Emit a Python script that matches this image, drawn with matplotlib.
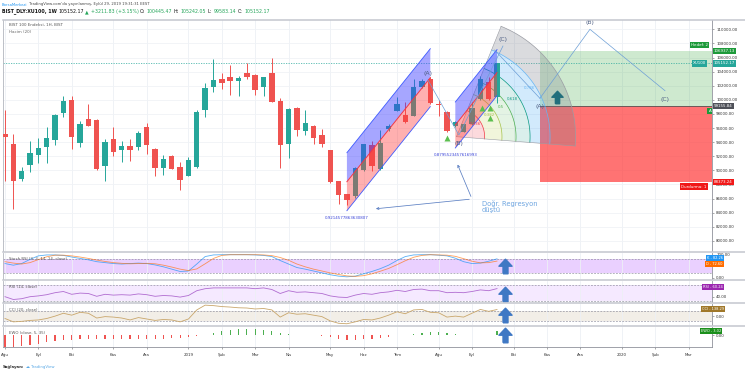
import matplotlib
matplotlib.use("Agg")
import matplotlib.pyplot as plt
import matplotlib.dates as mdates
from matplotlib.path import Path
from matplotlib.patches import Polygon, Rectangle
from matplotlib.lines import Line2D
import numpy as np
import pandas as pd

plt.rcParams['font.family'] = ['DejaVu Sans']

# ---------------- data ----------------
first_week = "2018-08-06"
opens = [95100, 93670, 88810, 90710, 92100, 93330, 94290, 98190, 99960, 93900,
         97240, 97100, 90570, 94380, 92810, 93380, 93330, 96190, 93040, 90330,
         92000, 90470, 89240, 90530, 98530, 101760, 102950, 103190, 102710, 103760,
         103520, 101760, 103760, 99860, 93670, 98900, 95570, 96290, 94950, 92860,
         88430, 86620, 86290, 90100, 93570, 90240, 95810, 98430, 97860, 97710,
         101760, 102950, 99390, 98330, 96290, 95470, 96530, 100100, 102480, 100445.47]
highs = [98570, 95100, 90430, 94140, 94530, 96140, 97950, 100570, 100570, 97000,
         99470, 97240, 94380, 96140, 94140, 94380, 95570, 96760, 93190, 92240,
         92240, 91140, 91860, 98570, 102330, 105810, 103810, 104950, 103430, 105190,
         103700, 103290, 105900, 100240, 98800, 99000, 98570, 96400, 95900, 92950,
         88500, 86700, 90430, 93700, 94140, 95710, 96620, 100430, 99620, 102950,
         102950, 103190, 99960, 98430, 97000, 96520, 99620, 103430, 103190, 105242.05]
lows = [88430, 84470, 88500, 89760, 91040, 91040, 93570, 97570, 93040, 93290,
        96290, 90100, 88430, 92000, 91190, 91380, 92810, 92330, 89140, 89380,
        90190, 87240, 89140, 90300, 97570, 101040, 101520, 100670, 100570, 102950,
        100710, 100570, 99620, 90330, 91760, 94860, 95000, 93760, 93290, 88190,
        85240, 85100, 86050, 89860, 89860, 90100, 95570, 98430, 96760, 97710,
        101670, 99470, 97710, 95470, 96150, 95380, 96430, 99960, 99960, 99583.14]
closes = [94760, 88530, 89960, 92480, 93100, 94570, 97860, 99860, 94710, 96530,
          96290, 90240, 94000, 92620, 93430, 92810, 95290, 93520, 90330, 91670,
          90240, 88670, 91430, 98290, 101620, 102810, 102330, 102620, 103050, 103190,
          101430, 103190, 99710, 93570, 98670, 95710, 96760, 94620, 93760, 88290,
          86520, 85810, 90330, 93670, 90570, 93810, 96290, 99470, 96860, 101760,
          102710, 99530, 99210, 95570, 96900, 96520, 98900, 102950, 100100, 105152.17]

stoch_k = [62, 55, 62, 80, 95, 99, 99, 97, 90, 84, 78, 70, 66, 62, 60, 62, 64, 62, 56, 48,
           38, 28, 30, 60, 92, 99, 100, 100, 100, 100, 99, 97, 92, 75, 60, 45, 38, 30, 22, 14,
           8, 5, 8, 18, 28, 40, 55, 75, 92, 99, 100, 100, 98, 95, 85, 70, 62, 64, 72, 82.26]
stoch_d = [70, 64, 60, 66, 79, 91, 98, 98, 95, 90, 84, 77, 71, 66, 63, 61, 62, 63, 61, 55,
           47, 38, 32, 39, 61, 84, 97, 100, 100, 100, 100, 99, 96, 88, 76, 60, 48, 38, 30, 22,
           15, 9, 7, 10, 18, 29, 41, 57, 74, 89, 97, 100, 99, 98, 93, 83, 72, 65, 66, 72.60]
rsi = [40, 33, 35, 40, 42, 45, 50, 53, 46, 49, 48, 41, 46, 44, 45, 44, 47, 45, 41, 43,
       42, 39, 43, 55, 60, 62, 62, 62, 62, 62, 60, 62, 58, 48, 55, 51, 52, 50, 48, 42,
       39, 38, 44, 48, 46, 50, 52, 56, 53, 58, 59, 55, 55, 50, 51, 50, 53, 57, 55, 60.24]
cci = [-50, -120, -110, -90, -80, -50, 0, 60, 20, 80, 60, -40, -10, -20, -40, -80, -30, -60, -90, -70,
       -80, -120, -60, 130, 230, 220, 200, 190, 175, 170, 150, 160, 130, -20, 70, 40, 50, 20, -10, -100,
       -150, -160, -120, -70, -80, -40, 20, 90, 50, 130, 140, 80, 70, -20, 0, -20, 60, 140, 100, 138.29]
ewo = [-9.7, -9.7, -9.2, -8.7, -7.5, -6.1, -4.7, -4.2, -3.9, -3.6, -3.6, -3.6, -3.6, -3.6, -3.6,
       -3.3, -3.3, -3.1, -3.1, -3.1, -2.8, -2.5, -1.9, -0.8, 0.3, 1.7, 3.1, 4.4, 5.0, 5.0,
       4.7, 4.2, 3.1, 1.7, 0.6, 0.3, -0.3, -0.3, -0.6, -1.9, -3.3, -4.2, -4.2, -3.6, -3.1,
       -2.2, -1.4, -0.4, 0.2, 0.8, 1.7, 2.2, 2.2, 1.7, 0.8, 0.3, 0.3, 0.2, 0.4, 3.02]

month_labels = ["Ağu", "Eyl", "Eki", "Kas", "Ara", "2019", "Şub", "Mar", "Nis", "May",
                "Haz", "Tem", "Ağu", "Eyl", "Eki", "Kas", "Ara", "2020", "Şub", "Mar"]
month_first = "2018-08-01"
price_ticks = list(range(80000, 110001, 2000))

last_close = 105152.17
entry_price = 99155.84
target_price = 106937.13
stop_price = 88373.24
position_start = "2019-10-29"

chan1 = dict(start="2019-05-20", end="2019-07-29", mid0=88384, mid1=103135, half=4113,
             r="0.9214577863630807")
chan2 = dict(start="2019-08-19", end="2019-09-23", mid0=96426, mid1=103858, half=3262,
             r="0.8795523457616993")
wedge_center = ("2019-08-20", 94767)
fib_levels = [0.236, 0.382, 0.5, 0.618, 0.786, 1.0]
abc1 = [("2019-07-27", 102809), ("2019-08-22", 95007), ("2019-09-28", 107631)]
abc2 = [("2019-10-29", 100213), ("2019-12-10", 110000), ("2020-02-11", 101291)]
abc_extra = [("2019-09-21", 107064), ("2019-10-29", 100213)]
buy_marks = [("2019-08-12", 94540), ("2019-09-10", 98795), ("2019-09-17", 98795), ("2019-09-17", 97376)]

# ---------------- figure ----------------
W, H = 745, 375
fig = plt.figure(figsize=(W / 100, H / 100), dpi=100, facecolor='white')
LEFT, RIGHT = 3, 712


def add_panel(top, bottom):
    return fig.add_axes([LEFT / W, 1 - bottom / H, (RIGHT - LEFT) / W, (bottom - top) / H])


ax = add_panel(20, 251)
ax_st = add_panel(253, 279)
ax_rsi = add_panel(281, 302)
ax_cci = add_panel(304, 325)
ax_ewo = add_panel(327, 347)
axes = [ax, ax_st, ax_rsi, ax_cci, ax_ewo]

dates = pd.date_range(first_week, periods=len(opens), freq="7D")
dn = mdates.date2num(dates)
px_day = 8.34 / 7.0
xmin = dn[0] - 2 / px_day
xmax = dn[-1] + (RIGHT - 497) / px_day

mstarts = pd.date_range(month_first, periods=len(month_labels), freq="MS")
tick_dates = [d + pd.Timedelta(days=(7 - d.weekday()) % 7) for d in mstarts]
tick_nums = mdates.date2num(tick_dates)

for a in axes:
    a.set_xlim(xmin, xmax)
    a.set_xticks(tick_nums)
    a.grid(True, axis='x', color='#edf0f5', lw=0.6)
    a.set_axisbelow(True)
    a.yaxis.tick_right()
    a.tick_params(axis='y', labelsize=2.8, length=1.5, width=0.4, pad=1.5, color='#666', labelcolor='#333')
    a.tick_params(axis='x', length=0, labelbottom=False)
    a.spines['top'].set_visible(False)
    a.spines['bottom'].set_visible(False)
    a.spines['left'].set_color('#b2b5be')
    a.spines['left'].set_linewidth(0.6)
    a.spines['right'].set_color('#8f929b')
    a.spines['right'].set_linewidth(0.6)

ax_ewo.tick_params(axis='x', labelbottom=True, length=1.5, width=0.4, labelsize=2.9, pad=2.5,
                   color='#666', labelcolor='#333')
ax_ewo.set_xticklabels(month_labels)
ax_ewo.spines['bottom'].set_visible(True)
ax_ewo.spines['bottom'].set_color('#8f929b')
ax_ewo.spines['bottom'].set_linewidth(0.6)

# ---------- main price panel ----------
pmin = 110000 - (251 - 29.3) / 7.05 * 1000
pmax = 110000 + (29.3 - 20) / 7.05 * 1000
ax.set_ylim(pmin, pmax)
ax.set_yticks(price_ticks)
ax.set_yticklabels([f"{v:.2f}" for v in price_ticks])
ax.grid(True, axis='y', color='#f0f2f6', lw=0.6)

fig.canvas.draw()
ppd = ax.bbox.width / (xmax - xmin)
ppp = ax.bbox.height / (pmax - pmin)

o, h, l, c = map(np.array, (opens, highs, lows, closes))
cols = np.where(c >= o, '#26a69a', '#ef5350')

# position tool (long)
x_pos = mdates.date2num(pd.Timestamp(position_start))
ax.add_patch(Rectangle((x_pos, entry_price), xmax + 50 - x_pos, target_price - entry_price,
                       fc='#4caf50', alpha=0.27, ec='none', zorder=1))
ax.add_patch(Rectangle((x_pos, stop_price), xmax + 50 - x_pos, entry_price - stop_price,
                       fc='#ff3d3d', alpha=0.72, ec='none', zorder=1))
ax.plot([x_pos, xmax + 50], [entry_price, entry_price], color='#555', lw=0.6, zorder=2)

# last price dotted line
ax.axhline(last_close, color='#26a69a', lw=0.6, ls=(0, (1.5, 1.5)), alpha=0.8, zorder=2)

# fib wedge
cx = mdates.date2num(pd.Timestamp(wedge_center[0]))
cy = wedge_center[1]
R = 119.0
a0, a1 = np.deg2rad(-4.5), np.deg2rad(68)
band_cols = [('#f23645', 0.18), ('#b5cc3c', 0.18), ('#4caf50', 0.15), ('#089981', 0.15),
             ('#2196f3', 0.2), ('#787b86', 0.27)]
line_cols = ['#f23645', '#a5c24a', '#4caf50', '#089981', '#64b5f6', '#9a9ca3']
tt = np.linspace(a0, a1, 90)


def arc_pts(r):
    return [(cx + r * np.cos(t) / ppd, cy + r * np.sin(t) / ppp) for t in tt]


prev = 0.0
for lev, (fc, al), lc in zip(fib_levels, band_cols, line_cols):
    outer = arc_pts(lev * R)
    inner = arc_pts(prev * R)[::-1] if prev > 0 else [(cx, cy)]
    ax.add_patch(Polygon(outer + inner, closed=True, fc=fc, alpha=al, ec='none', zorder=2))
    xs, ys = zip(*outer)
    ax.plot(xs, ys, color=lc, lw=0.5, zorder=2.5)
    prev = lev
for t in (a0, a1):
    ax.plot([cx, cx + R * np.cos(t) / ppd], [cy, cy + R * np.sin(t) / ppp], color='#9a9ca3', lw=0.4, zorder=2.5)
lab_ang = np.deg2rad(34)
for lev, lc in zip(fib_levels[:-1], line_cols[:-1]):
    rr = lev * R - 6
    ax.text(cx + rr * np.cos(lab_ang) / ppd, cy + rr * np.sin(lab_ang) / ppp, f"{lev:g}",
            fontsize=2.8, color=lc, ha='center', va='center', zorder=6)

# candles
ax.vlines(dn, l, h, colors=cols, lw=0.7, zorder=3)
ax.bar(dn, np.maximum(np.abs(c - o), 80), bottom=np.minimum(o, c), width=4.5, color=cols, lw=0, zorder=3)


# regression channels
def channel(ch):
    x0 = mdates.date2num(pd.Timestamp(ch['start']))
    x1 = mdates.date2num(pd.Timestamp(ch['end']))
    m0, m1, hw = ch['mid0'], ch['mid1'], ch['half']
    ax.add_patch(Polygon([(x0, m0), (x1, m1), (x1, m1 + hw), (x0, m0 + hw)], closed=True,
                         fc='#3a3aff', alpha=0.45, ec='none', zorder=4))
    ax.add_patch(Polygon([(x0, m0 - hw), (x1, m1 - hw), (x1, m1), (x0, m0)], closed=True,
                         fc='#ff3a3a', alpha=0.40, ec='none', zorder=4))
    ax.plot([x0, x1], [m0 + hw, m1 + hw], color='#3d5afe', lw=0.6, zorder=4.5)
    ax.plot([x0, x1], [m0, m1], color='#f23645', lw=0.7, zorder=4.5)
    ax.plot([x0, x1], [m0 - hw, m1 - hw], color='#3d5afe', lw=0.6, zorder=4.5)
    ax.annotate(ch['r'], (x0, m0 - hw), xytext=(0, -3.5), textcoords='offset points',
                fontsize=2.9, color='#3a44d8', ha='center', va='top', zorder=6)


channel(chan1)
channel(chan2)


# ABC drawings
def dpts(pts):
    return [mdates.date2num(pd.Timestamp(d)) for d, _ in pts], [p for _, p in pts]


for pts in (abc1, abc2, abc_extra):
    xs, ys = dpts(pts)
    ax.plot(xs, ys, color='#6d9fd6', lw=0.5, zorder=5)
for pts, offs in ((abc1, (5, -6, 5)), (abc2, (-6, 5, -6))):
    xs, ys = dpts(pts)
    for lbl, off, x, y in zip(("(A)", "(B)", "(C)"), offs, xs, ys):
        ax.annotate(lbl, (x, y), xytext=(0, off), textcoords='offset points', fontsize=4.4,
                    color='#4c5d82', ha='center', va='center', zorder=6)

# buy markers
xs, ys = dpts(buy_marks)
ax.plot(xs, ys, ls='none', marker='^', ms=4.2, color='#5cbf4f', mec='none', zorder=6)

# arrow marker
arrow = Path([(-0.17, -0.5), (0.17, -0.5), (0.17, 0.02), (0.45, 0.02), (0.0, 0.5),
              (-0.45, 0.02), (-0.17, 0.02), (-0.17, -0.5)])
ax.plot([mdates.date2num(pd.Timestamp("2019-11-12"))], [100400], marker=arrow, ms=9,
        color='#226f7c', ls='none', zorder=6)

# regression annotation
tx = mdates.date2num(pd.Timestamp("2019-09-10"))
ax.text(tx, 85788, "Doğr. Regresyon\ndüştü", fontsize=4.9, color='#6ea5e0', ha='left', va='top',
        linespacing=0.95, zorder=6)
tail = (mdates.date2num(pd.Timestamp("2019-09-02")), 85930)
for head in [(mdates.date2num(pd.Timestamp("2019-08-20")), 91178),
             (mdates.date2num(pd.Timestamp("2019-06-11")), 84505)]:
    ax.annotate("", xy=head, xytext=tail,
                arrowprops=dict(arrowstyle='->', color='#5b7fc2', lw=0.55, mutation_scale=4), zorder=6)

ax.text(6 / 709, 1 - 5 / 231, "BIST 100 Endeksi, 1H, BIST", transform=ax.transAxes, fontsize=2.9,
        color='#555', ha='left', va='center', zorder=7)
ax.text(6 / 709, 1 - 12.3 / 231, "Hacim (20)", transform=ax.transAxes, fontsize=2.9,
        color='#666', ha='left', va='center', zorder=7)


def tag(axx, y, text, fc, x_px, ha='left', clip=False, size=2.9):
    t = axx.text((x_px - LEFT) / (RIGHT - LEFT), y, text, transform=axx.get_yaxis_transform(),
                 fontsize=size, color='white', ha=ha, va='center', zorder=10,
                 bbox=dict(boxstyle='square,pad=0.3', fc=fc, ec='none'), clip_on=clip)
    return t


tag(ax, target_price, f"{target_price:.2f}", '#1d9a3a', 714)
tag(ax, 107773, "Hedef: 2", '#1d9a3a', 691, clip=True)
tag(ax, last_close, f"{last_close:.2f}", '#26a69a', 714)
tag(ax, last_close, "XU100", '#26a69a', 693, clip=True)
tag(ax, entry_price, f"{entry_price:.2f}", '#4f5159', 714)
tag(ax, 98400, "A", '#1d9a3a', 708.5, clip=True)
tag(ax, stop_price, f"{stop_price:.2f}", '#f01818', 714)
tag(ax, 87700, "Durdurma: 1", '#f01818', 681, clip=True)

# ---------- Stoch RSI ----------
ax_st.set_ylim(-4.3, 107.3)
ax_st.set_yticks([0, 100])
ax_st.set_yticklabels(["0.00", "100.00"])
ax_st.axhspan(20, 80, color='#9915ff', alpha=0.2, lw=0, zorder=0.5)
for v in (20, 80):
    ax_st.axhline(v, color='#8a8a99', lw=0.45, ls=(0, (3, 2)), zorder=1)
ax_st.plot(dn, stoch_k, color='#2196f3', lw=0.6, alpha=0.75, zorder=3)
ax_st.plot(dn, stoch_d, color='#ff6d00', lw=0.6, alpha=0.65, zorder=3)
tag(ax_st, 84, f"K - {stoch_k[-1]:.2f}", '#2196f3', 723, ha='right', size=2.6)
tag(ax_st, 60, f"D - {stoch_d[-1]:.2f}", '#ff6d00', 723, ha='right', size=2.6)

# ---------- RSI ----------
ax_rsi.set_ylim(26.75, 79.25)
ax_rsi.set_yticks([40])
ax_rsi.set_yticklabels(["40.00"])
ax_rsi.axhspan(30, 70, color='#9915ff', alpha=0.09, lw=0, zorder=0.5)
for v in (30, 70):
    ax_rsi.axhline(v, color='#8a8a99', lw=0.45, ls=(0, (3, 2)), zorder=1)
ax_rsi.plot(dn, rsi, color='#b06cd0', lw=0.6, zorder=3)
tag(ax_rsi, 65, f"RSI - {rsi[-1]:.2f}", '#9c27b0', 723, ha='right', size=2.6)

# ---------- CCI ----------
ax_cci.set_ylim(-186, 254)
ax_cci.set_yticks([0])
ax_cci.set_yticklabels(["0.00"])
ax_cci.axhspan(-100, 100, color='#9c7a3c', alpha=0.12, lw=0, zorder=0.5)
for v in (-100, 100):
    ax_cci.axhline(v, color='#8a8a99', lw=0.45, ls=(0, (3, 2)), zorder=1)
ax_cci.plot(dn, cci, color='#c9a66b', lw=0.6, zorder=3)
tag(ax_cci, 150, f"CCI - {cci[-1]:.2f}", '#a0782a', 724, ha='right', size=2.6)

# ---------- EWO ----------
ax_ewo.set_ylim(-10, 6.67)
ax_ewo.set_yticks([0])
ax_ewo.set_yticklabels(["0.00"])
ecol = ['#4caf50' if v >= 0 else '#ef5350' for v in ewo]
ax_ewo.bar(dn, ewo, width=1.0, color=ecol, lw=0, zorder=3)
tag(ax_ewo, 3.3, f"EWO - {ewo[-1]:.2f}", '#1b8f1b', 721, ha='right', size=2.6)

# indicator titles
for a, name, top, bot in [(ax_st, "Stoch RSI (3, 3, 14, 14, close)", 253, 279),
                          (ax_rsi, "RSI (14, close)", 281, 302),
                          (ax_cci, "CCI (20, close)", 304, 325),
                          (ax_ewo, "EWO (close, 5, 35)", 327, 347)]:
    a.text(6 / 709, 1 - 6 / (bot - top), name, transform=a.transAxes, fontsize=2.8, color='#555',
           ha='left', va='center', zorder=7)

# blue arrows on indicators
xa = mdates.date2num(pd.Timestamp("2019-09-30"))
for a, yv in [(ax_st, 51.5), (ax_rsi, 48), (ax_cci, 14), (ax_ewo, 0)]:
    a.plot([xa], [yv], marker=arrow, ms=10.5, color='#3f78c4', ls='none', zorder=8, clip_on=False)

# panel separators
for y in (19.5, 252, 280, 303, 326):
    fig.add_artist(Line2D([LEFT / W, 1], [1 - y / H, 1 - y / H], color='#c3c6ce', lw=1.1))

# header & footer
renderer = fig.canvas.get_renderer()


def chain(x_px, y_px, segs, size):
    x = x_px
    gap = size * 100 / 72 * 0.32
    for s, colr, wt in segs:
        t = fig.text(x / W, 1 - y_px / H, s, color=colr, fontsize=size, fontweight=wt,
                     ha='left', va='center')
        x += t.get_window_extent(renderer).width + gap


chain(2, 4.5, [("BorsaMerkezi", '#2196f3', 'normal'),
               ("TradingView.com'da yayınlanmış, Eylül 29, 2019 19:31:31 EEST", '#444', 'normal')], 2.72)
g = '#26a65b'
chain(2, 11.5, [("BIST_DLY:XU100, 1W", '#111', 'bold'), ("105152.17", '#111', 'normal'),
                ("▲", g, 'normal'), ("+3211.83 (+3.15%)", g, 'normal'), ("O:", '#111', 'normal'),
                ("100445.47", g, 'normal'), ("H:", '#111', 'normal'), ("105242.05", g, 'normal'),
                ("L:", '#111', 'normal'), ("99583.14", g, 'normal'), ("C:", '#111', 'normal'),
                ("105152.17", g, 'normal')], 3.45)
chain(3, 367, [("Sağlayan:", '#333', 'bold'), ("☁", '#5aa9e6', 'normal'),
               ("TradingView", '#5aa9e6', 'normal')], 2.8)

fig.savefig("out.png", dpi=100, facecolor='white')
